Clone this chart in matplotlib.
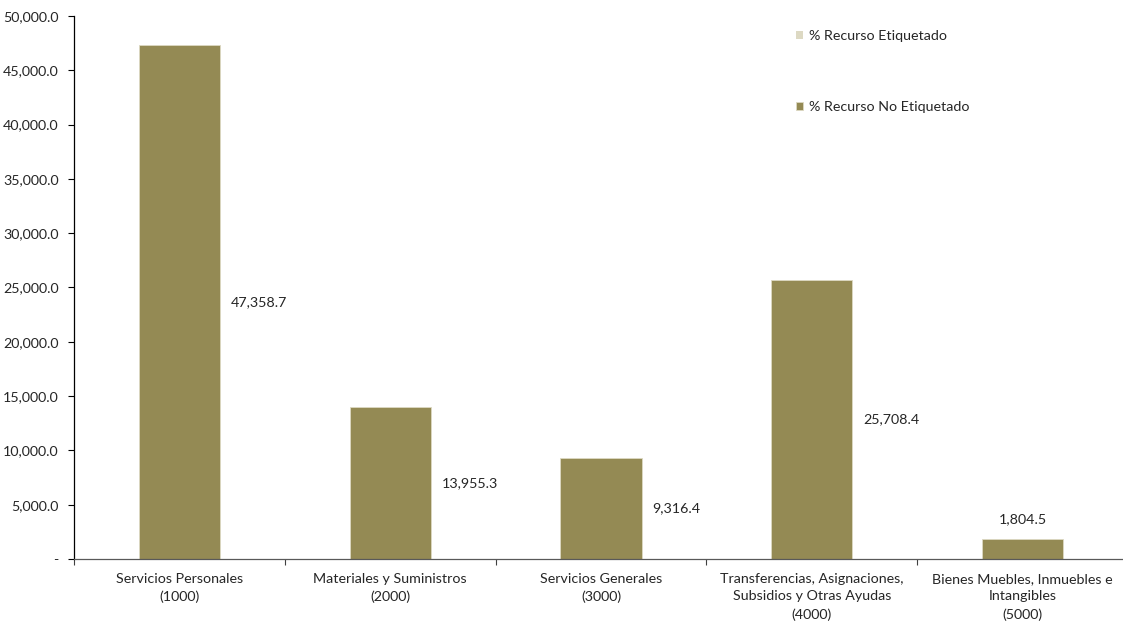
import matplotlib
matplotlib.use("Agg")
import matplotlib.pyplot as plt
from matplotlib.ticker import FixedLocator, FuncFormatter, NullFormatter
import numpy as np

plt.rcParams['font.family'] = ['Lato', 'DejaVu Sans']

categories = [
    "Servicios Personales\n(1000)",
    "Materiales y Suministros\n(2000)",
    "Servicios Generales\n(3000)",
    "Transferencias, Asignaciones,\nSubsidios y Otras Ayudas\n(4000)",
    "Bienes Muebles, Inmuebles e\nIntangibles\n(5000)",
]
etiquetado = [0.0, 0.0, 0.0, 0.0, 0.0]
no_etiquetado = [47358.7, 13955.3, 9316.4, 25708.4, 1804.5]
y_ticks = [0, 5000, 10000, 15000, 20000, 25000, 30000, 35000, 40000, 45000, 50000]

color_etq = "#DDD9C3"
color_no_etq = "#948A54"
text_color = "#262626"
fs = 10.3

W, H = 1123, 623
fig = plt.figure(figsize=(W / 100, H / 100), dpi=100)
left_px, bottom_px, top_px = 74, 559, 16
ax = fig.add_axes([left_px / W, (H - bottom_px) / H,
                   (W - left_px) / W, (bottom_px - top_px) / H])

x = np.arange(len(categories))
bar_w = 0.385
ax.bar(x, etiquetado, bar_w, color=color_etq, label="% Recurso Etiquetado")
ax.bar(x, no_etiquetado, bar_w, bottom=etiquetado, color=color_no_etq,
       edgecolor=color_etq, linewidth=0.6, label="% Recurso No Etiquetado")

cat_w_px = 210.8
ax.set_xlim(-0.5, -0.5 + (W - left_px) / cat_w_px)
ax.set_ylim(0, 50000)

# value labels: beside the bar at mid-height, above it when the bar is short
vmax = max(no_etiquetado)
for xi, e, v in zip(x, etiquetado, no_etiquetado):
    total = e + v
    if v < 0.05 * vmax:
        ax.annotate(f"{v:,.1f}", (xi, total), xytext=(0, 10.5), textcoords="offset points",
                    ha="center", va="bottom", fontsize=fs, color=text_color)
    else:
        ax.annotate(f"{v:,.1f}", (xi + bar_w / 2, e + v / 2), xytext=(8, 0),
                    textcoords="offset points", ha="left", va="center",
                    fontsize=fs, color=text_color)

# category boundaries carry the tick marks; names sit centred under each bar
ax.xaxis.set_major_locator(FixedLocator(np.arange(-0.5, len(categories), 1.0)))
ax.xaxis.set_major_formatter(NullFormatter())
ax.tick_params(axis="x", which="major", direction="out", length=4, width=0.8, color="#404040")
xform = ax.get_xaxis_transform()
for xi, name in zip(x, categories):
    ax.annotate(name, (xi, 0), xycoords=xform, xytext=(0, -10), textcoords="offset points",
                ha="center", va="top", fontsize=fs, color=text_color, linespacing=1.55,
                annotation_clip=False)

ax.set_yticks(y_ticks)
ax.yaxis.set_major_formatter(FuncFormatter(lambda v, p: "-" if v == 0 else f"{v:,.1f}"))
ax.tick_params(axis="y", direction="out", length=4, width=0.8, color="#000000",
               pad=7, labelsize=fs, labelcolor=text_color)

for s in ("top", "right"):
    ax.spines[s].set_visible(False)
ax.spines["left"].set_color("#000000")
ax.spines["left"].set_linewidth(0.9)
ax.spines["bottom"].set_color("#595959")
ax.spines["bottom"].set_linewidth(0.9)
ax.spines["bottom"].set_zorder(3)

fig.legend(loc="upper left", bbox_to_anchor=(796 / W, 1 - 30 / H), frameon=False,
           fontsize=fs, handlelength=0.5, handleheight=0.5, handletextpad=0.4,
           labelspacing=4.15, borderpad=0, borderaxespad=0, labelcolor=text_color)

fig.savefig("out.png", dpi=100)
